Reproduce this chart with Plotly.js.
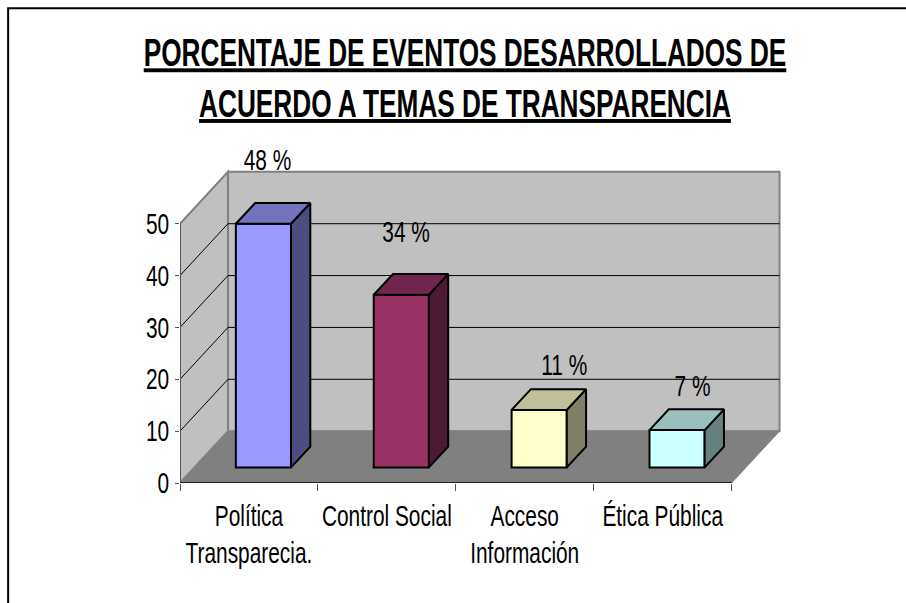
<!DOCTYPE html>
<html>
<head>
<meta charset="utf-8">
<script src="https://cdn.plot.ly/plotly-3.0.1.min.js"></script>
<style>html,body{margin:0;padding:0;background:#fff;overflow:hidden}</style>
</head>
<body>
<div id="chart" style="width:906px;height:603px"></div>
<script>
const titleText = "<u>PORCENTAJE DE EVENTOS DESARROLLADOS DE</u><br><u>ACUERDO A TEMAS DE TRANSPARENCIA</u>";
const categories = ["Política<br>Transparecia.", "Control Social", "Acceso<br>Información", "Ética Pública"];
const barValues = [47, 33.3, 11.1, 7.2];
const valueLabels = ["48 %", "34 %", "11 %", "7 %"];
const labelX = [0.634, 1.64, 2.787, 3.717];
const labelY = [61.7, 47.9, 22.3, 18.1];
const frontColors = ["#9999FF", "#993366", "#FFFFCC", "#CCFFFF"];
const topColors = ["#7373BF", "#73264D", "#BFBF99", "#99BFBF"];
const sideColors = ["#4D4D80", "#4D1A33", "#808066", "#668080"];
const yTicks = [0, 10, 20, 30, 40, 50];
const xTicks = [0, 1, 2, 3, 4];

// 3D look
const wallDX = 0.348, wallDY = 10;
const barDX = 0.14, barDY = 4, barBase = 3, barW = 0.4, barShift = 0.605;
const fontFamily = "'Liberation Sans', Arial, sans-serif";
const W = 906, H = 603, mL = 179.5, mR = 124, mT = 119.5, mB = 119.5;

const centers = categories.map((_, i) => i + barShift);
const traces = [{
  type: "bar", x: centers, y: barValues, base: barBase, width: barW,
  marker: {color: frontColors, line: {color: "#000", width: 2}},
  hoverinfo: "skip", showlegend: false
}];
barValues.forEach((v, i) => {
  const l = centers[i] - barW / 2, r = centers[i] + barW / 2, t = barBase + v, b = barBase;
  traces.push({type: "scatter", mode: "lines", fill: "toself", fillcolor: sideColors[i],
    x: [r, r + barDX, r + barDX, r, r], y: [b, b + barDY, t + barDY, t, b],
    line: {color: "#000", width: 2}, hoverinfo: "skip", showlegend: false});
  traces.push({type: "scatter", mode: "lines", fill: "toself", fillcolor: topColors[i],
    x: [l, l + barDX, r + barDX, r, l], y: [t, t + barDY, t + barDY, t, t],
    line: {color: "#000", width: 2}, hoverinfo: "skip", showlegend: false});
});
traces.push({type: "scatter", mode: "text", x: labelX, y: labelY, text: valueLabels,
  textposition: "middle center", textfont: {family: fontFamily, size: 29, color: "#000"},
  cliponaxis: false, hoverinfo: "skip", showlegend: false});
traces.push({type: "scatter", mode: "markers", xaxis: "x2", x: categories.map((_, i) => i + 0.5),
  y: categories.map(() => 0), marker: {opacity: 0, size: 1}, hoverinfo: "skip", showlegend: false});

const poly = pts => "M" + pts.map(p => p[0] + "," + p[1]).join(" L") + " Z";
const shapes = [
  {type: "path", layer: "below", xref: "x", yref: "y", fillcolor: "#C0C0C0", line: {color: "#808080", width: 2},
   path: poly([[0, 0], [wallDX, wallDY], [wallDX, 50 + wallDY], [0, 50]])},
  {type: "path", layer: "below", xref: "x", yref: "y", fillcolor: "#C0C0C0", line: {color: "#808080", width: 2},
   path: poly([[wallDX, wallDY], [4 + wallDX, wallDY], [4 + wallDX, 50 + wallDY], [wallDX, 50 + wallDY]])},
  {type: "path", layer: "below", xref: "x", yref: "y", fillcolor: "#808080", line: {color: "#808080", width: 1},
   path: poly([[0, 0], [4, 0], [4 + wallDX, wallDY], [wallDX, wallDY]])}
];
[10, 20, 30, 40].forEach(v => {
  shapes.push({type: "path", layer: "below", xref: "x", yref: "y", line: {color: "#000", width: 1},
    path: `M0,${v} L${wallDX},${v + wallDY} L${4 + wallDX},${v + wallDY}`});
});
// axis lines
shapes.push({type: "line", layer: "below", xref: "x", yref: "y", x0: 0, x1: 0, y0: 0, y1: 50, line: {color: "#555", width: 2}});
shapes.push({type: "line", layer: "below", xref: "x", yref: "y", x0: 0, x1: 4, y0: 0, y1: 0, line: {color: "#222", width: 2}});
// outer frame of the picture
const px = p => (p - mL) / (W - mL - mR), py = p => 1 - (p - mT) / (H - mT - mB);
shapes.push({type: "path", layer: "above", xref: "paper", yref: "paper", line: {color: "#000", width: 2},
  path: `M${px(7.5)},${py(610)} L${px(7.5)},${py(7.5)} L${px(910)},${py(7.5)}`});

const layout = {
  width: W, height: H, paper_bgcolor: "#fff", plot_bgcolor: "rgba(0,0,0,0)",
  margin: {l: mL, r: mR, t: mT, b: mB, pad: 0}, showlegend: false, bargap: 0,
  font: {family: fontFamily, color: "#000"},
  title: {text: titleText, font: {family: fontFamily, size: 39, weight: 700, color: "#000"},
          x: 465 / W, xref: "container", xanchor: "center", y: 1 - 66 / H, yref: "container", yanchor: "top"},
  xaxis: {range: [0, (W - mL - mR) / 138], tickmode: "array", tickvals: xTicks, showticklabels: false, ticks: "outside",
          ticklen: 7, tickcolor: "#555", tickwidth: 1, showgrid: false, zeroline: false, showline: false, fixedrange: true},
  xaxis2: {overlaying: "x", anchor: "y", side: "bottom", range: [0, (W - mL - mR) / 138], tickmode: "array",
           tickvals: categories.map((_, i) => i + 0.5), ticktext: categories, ticks: "outside", ticklen: 7, tickcolor: "rgba(0,0,0,0)",
           tickfont: {family: fontFamily, size: 29, color: "#000"}, tickangle: 0,
           showgrid: false, zeroline: false, showline: false, fixedrange: true},
  yaxis: {range: [0, (H - mT - mB) / 5.2], tickmode: "array", tickvals: yTicks, ticks: "outside", ticklen: 4, tickcolor: "#555", tickwidth: 1,
          tickfont: {family: fontFamily, size: 29, color: "#000"}, showgrid: false, zeroline: false, showline: false, fixedrange: true},
  shapes: shapes
};

// The reference text is condensed: squeeze glyphs horizontally around an anchor of each text
function squeeze(sel, sx, anchor) {
  document.querySelectorAll(sel).forEach(t => {
    const b = t.getBBox(), cx = b.x + b.width * anchor, old = t.getAttribute("transform") || "";
    t.setAttribute("transform", `${old} translate(${cx} 0) scale(${sx} 1) translate(${-cx} 0)`);
  });
}
Plotly.newPlot("chart", traces, layout, {displayModeBar: false, staticPlot: true}).then(() => {
  squeeze(".gtitle", 0.672, 0.5);
  squeeze(".xtick text, .x2tick text", 0.72, 0.5);
  squeeze(".ytick text", 0.72, 1);
  squeeze(".textpoint text", 0.72, 0.5);
});
</script>
</body>
</html>
